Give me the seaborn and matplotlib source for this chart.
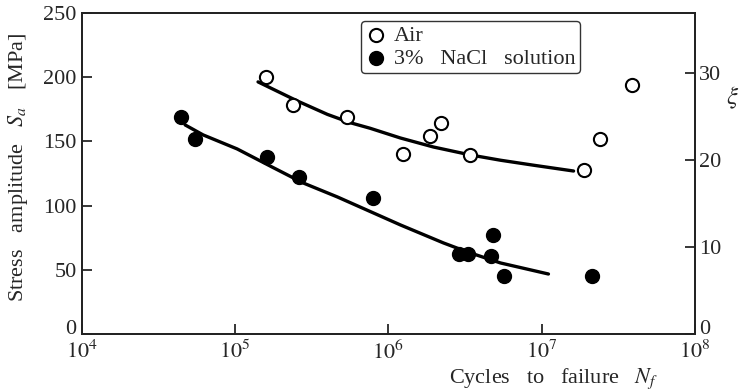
import numpy as np
import pandas as pd
import matplotlib
matplotlib.use("Agg")
import matplotlib.pyplot as plt
import seaborn as sns

# Fatigue test results: cycles to failure vs stress amplitude
air_cycles = [1.6e5, 2.4e5, 5.4e5, 1.24e6, 1.88e6, 2.2e6, 3.4e6, 1.9e7, 2.4e7, 3.9e7]
air_stress = [200, 178, 169, 140, 154, 164, 139, 128, 152, 194]

nacl_cycles = [4.4e4, 5.5e4, 1.62e5, 2.6e5, 7.9e5, 2.9e6, 3.3e6, 4.8e6, 4.7e6, 5.65e6, 2.15e7]
nacl_stress = [169, 152, 138, 122, 106, 62, 62, 77, 61, 45, 45]

# Fitted S-N curves
air_fit_cycles = [1.41e5, 2.54e5, 4.0e5, 5.65e5, 7.6e5, 1.2e6, 1.97e6, 3.44e6, 5.4e6, 8.9e6, 1.62e7]
air_fit_stress = [196.3, 181.5, 171.0, 164.5, 160.2, 152.6, 145.6, 139.4, 135.3, 131.4, 126.9]

nacl_fit_cycles = [4.71e4, 6.18e4, 1.03e5, 1.69e5, 2.78e5, 4.65e5, 1.2e6, 2.29e6, 3.28e6, 5.4e6, 1.11e7]
nacl_fit_stress = [162.8, 155.0, 144.1, 130.8, 117.6, 106.7, 84.9, 70.9, 63.9, 55.3, 46.7]

left_ticks = [0, 50, 100, 150, 200, 250]
right_ticks = [0, 10, 20, 30]
x_ticks = [1e4, 1e5, 1e6, 1e7, 1e8]
x_tick_labels = [r"$10^{4}$", r"$10^{5}$", r"$10^{6}$", r"$10^{7}$", r"$10^{8}$"]

sns.set_style("ticks")
plt.rcParams["font.family"] = ["Liberation Serif", "DejaVu Serif"]
plt.rcParams["mathtext.fontset"] = "stix"
plt.rcParams["axes.linewidth"] = 1.3
plt.rcParams["xtick.major.width"] = 1.3
plt.rcParams["ytick.major.width"] = 1.3

fig = plt.figure(figsize=(7.39, 3.92), dpi=100)
ax = fig.add_axes([0.111, 0.148, 0.829, 0.819])

sns.lineplot(x=air_fit_cycles, y=air_fit_stress, ax=ax, color="black", lw=2.4,
             sort=False, legend=False, zorder=2)
sns.lineplot(x=nacl_fit_cycles, y=nacl_fit_stress, ax=ax, color="black", lw=2.4,
             sort=False, legend=False, zorder=2)

sns.scatterplot(x=air_cycles, y=air_stress, ax=ax, color="white", edgecolor="black",
                linewidth=1.5, s=90, label="Air", zorder=3)
sns.scatterplot(x=nacl_cycles, y=nacl_stress, ax=ax, color="black", edgecolor="black",
                linewidth=1.0, s=100, label="3%   NaCl   solution", zorder=3)

ax.set_xscale("log")
ax.set_xlim(1e4, 1e8)
ax.set_ylim(0, 250)
ax.set_xticks(x_ticks, labels=x_tick_labels)
ax.set_yticks(left_ticks, labels=[str(t) for t in left_ticks])
ax.minorticks_off()
ax.tick_params(direction="in", length=7, labelsize=16, pad=4)
ax.tick_params(axis="x", pad=5)
ax.get_yticklabels()[0].set_va("baseline")

ax.set_ylabel(r"Stress   amplitude   $S_a$   [MPa]", fontsize=16)
ax.yaxis.set_label_coords(-0.085, 0.52)
ax.set_xlabel(r"Cycles   to   failure   $N_f$", fontsize=16)
ax.xaxis.set_label_coords(0.77, -0.10)
ax.xaxis.label.set_va("top")

for side in ["top", "right", "left", "bottom"]:
    ax.spines[side].set_visible(True)
    ax.spines[side].set_color("#222222")

ax2 = ax.twinx()
ax2.set_ylim(0, 36.9)
ax2.set_yticks(right_ticks, labels=[str(t) for t in right_ticks])
ax2.minorticks_off()
ax2.tick_params(direction="in", length=7, labelsize=16, pad=3)
ax2.get_yticklabels()[0].set_va("baseline")
ax2.set_ylabel(r"$\xi$", fontsize=18)
ax2.yaxis.label.set_rotation(0)
ax2.yaxis.label.set_ha("center")
ax2.yaxis.label.set_va("center")
ax2.yaxis.set_label_coords(1.062, 0.735)
for side in ["top", "right", "left", "bottom"]:
    ax2.spines[side].set_color("#222222")

leg = ax.legend(loc="upper left", bbox_to_anchor=(0.455, 0.975), fontsize=16,
                frameon=True, fancybox=True, edgecolor="#333333", framealpha=1,
                handletextpad=0.3, borderpad=0.2, labelspacing=0.1,
                handlelength=1.0, borderaxespad=0)
leg.get_frame().set_linewidth(1.0)

fig.savefig("out.png", dpi=100)
